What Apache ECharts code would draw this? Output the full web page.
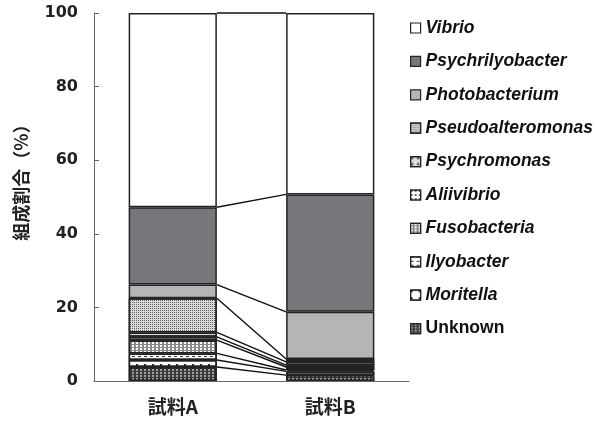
<!DOCTYPE html>
<html><head><meta charset="utf-8">
<script src="https://cdn.jsdelivr.net/npm/echarts@6/dist/echarts.min.js"></script>
<style>html,body{margin:0;padding:0;background:#fff}#c{width:597px;height:421px}</style>
</head><body><div id="c"></div>
<script>
const categories = ['試料A', '試料B'];
const yTicks = [0, 20, 40, 60, 80, 100];
const seriesNames = ['Unknown', 'Moritella', 'Ilyobacter', 'Fusobacteria', 'Aliivibrio', 'Psychromonas', 'Pseudoalteromonas', 'Photobacterium', 'Psychrilyobacter', 'Vibrio'];
const unknown = [3.8, 1.6];
const moritella = [1.9, 1.0];
const ilyobacter = [1.8, 0.4];
const fusobacteria = [3.6, 0.8];
const aliivibrio = [0.9, 0.5];
const psychromonas = [1.2, 0.9];
const pseudoalteromonas = [9.3, 0.8];
const photobacterium = [3.7, 12.8];
const psychrilyobacter = [21.0, 31.9];
const vibrio = [52.8, 49.3];
const values = [unknown, moritella, ilyobacter, fusobacteria, aliivibrio, psychromonas, pseudoalteromonas, photobacterium, psychrilyobacter, vibrio];

const styles = {
  Unknown: {color: '#3a3a3a', decal: {symbol: 'rect', color: 'rgba(255,255,255,0.5)', dashArrayX: [2, 2], dashArrayY: [2, 1], symbolSize: 1}},
  Moritella: {color: '#ffffff', decal: {symbol: 'rect', color: '#222', dashArrayX: [2, 6], dashArrayY: [2, 5], symbolSize: 1}},
  Ilyobacter: {color: '#ffffff', decal: {symbol: 'rect', color: '#333', dashArrayX: [3, 3], dashArrayY: [1, 3], symbolSize: 1}},
  Fusobacteria: {color: '#8a8a8a', decal: {symbol: 'rect', color: '#fff', dashArrayX: [2, 2], dashArrayY: [2, 1], symbolSize: 1}},
  Aliivibrio: {color: '#ffffff', decal: {symbol: 'circle', color: '#444', dashArrayX: [2, 2], dashArrayY: [2, 2], symbolSize: 1}},
  Psychromonas: {color: '#dddddd', decal: {symbol: 'diamond', color: '#333', dashArrayX: [3, 3], dashArrayY: [3, 3], symbolSize: 1}},
  Pseudoalteromonas: {color: '#d8d8d8', decal: {symbol: 'rect', color: '#666', dashArrayX: [1, 1], dashArrayY: [1, 1], symbolSize: 1}},
  Photobacterium: {color: '#b4b5b7'},
  Psychrilyobacter: {color: '#77777b'},
  Vibrio: {color: '#ffffff'}
};

const BAR_RATIO = 0.56;
const boundaries = [];
let ca = 0, cb = 0;
values.forEach(v => { ca += v[0]; cb += v[1]; boundaries.push([0, ca, cb]); });

const barSeries = seriesNames.map((n, i) => ({
  name: n, type: 'bar', stack: 'total', barWidth: (BAR_RATIO * 100) + '%',
  data: values[i],
  itemStyle: Object.assign({borderColor: '#222', borderWidth: 1.5}, styles[n]),
  emphasis: {disabled: true}
}));

const lineSeries = {
  type: 'custom', name: 'serieslines', z: 1,
  encode: {x: 0, y: [1, 2]},
  data: boundaries,
  renderItem: function (params, api) {
    const a = api.coord([0, api.value(1)]);
    const b = api.coord([1, api.value(2)]);
    const hw = api.size([1, 0])[0] * BAR_RATIO / 2;
    return {type: 'line', shape: {x1: a[0] + hw, y1: a[1], x2: b[0] - hw, y2: b[1]},
      style: {stroke: '#111', lineWidth: 1.4}};
  }
};

const chart = echarts.init(document.getElementById('c'), null, {renderer: 'canvas'});
chart.setOption({
  animation: false,
  backgroundColor: '#fff',
  grid: {left: 94, right: 188, top: 13, bottom: 40},
  legend: {
    orient: 'vertical', left: 405, top: 14, itemWidth: 10, itemHeight: 10, itemGap: 15.4,
    icon: 'rect',
    data: seriesNames.slice().reverse(),
    formatter: n => n === 'Unknown' ? '{n|' + n + '}' : '{i|' + n + '}',
    textStyle: {
      color: '#111',
      rich: {
        i: {fontFamily: 'Liberation Sans', fontStyle: 'italic', fontWeight: 'bold', fontSize: 17.5, color: '#111'},
        n: {fontFamily: 'Liberation Sans', fontWeight: 'bold', fontSize: 17.5, color: '#111'}
      }
    },
    itemStyle: {borderWidth: 1.2, borderColor: '#222'}
  },
  xAxis: {
    type: 'category', data: categories,
    axisLine: {lineStyle: {color: '#666', width: 1}},
    axisTick: {inside: true, length: 5, lineStyle: {color: '#666'}},
    axisLabel: {margin: 16, fontFamily: 'Noto Sans CJK JP', fontWeight: 'bold', fontSize: 19, color: '#222'}
  },
  yAxis: {
    type: 'value', min: yTicks[0], max: yTicks[yTicks.length - 1], interval: 20,
    name: '組成割合（%）', nameLocation: 'middle', nameGap: 64, nameRotate: 90,
    nameTextStyle: {fontFamily: 'Noto Sans CJK JP', fontWeight: 'bold', fontSize: 18, color: '#222', padding: [0, 0, 0, 38]},
    axisLine: {show: true, lineStyle: {color: '#666', width: 1}},
    axisTick: {show: true, inside: true, length: 5, lineStyle: {color: '#666'}},
    splitLine: {show: false},
    axisLabel: {margin: 16, fontFamily: 'DejaVu Sans', fontWeight: 'bold', fontSize: 16, color: '#222'}
  },
  series: barSeries.concat([lineSeries])
});
</script></body></html>
